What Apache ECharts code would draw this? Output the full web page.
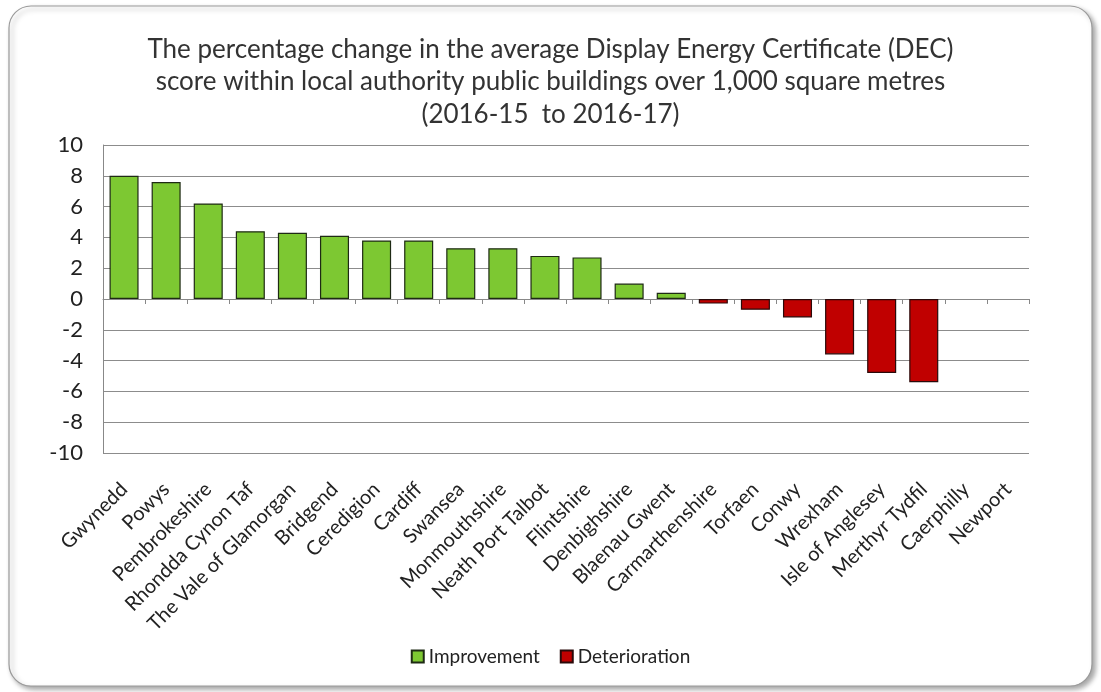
<!DOCTYPE html>
<html>
<head>
<meta charset="utf-8">
<script src="https://cdn.jsdelivr.net/npm/echarts@6/dist/echarts.min.js"></script>
<style>
  html, body { margin: 0; padding: 0; background: #fff; }
  #chart { width: 1101px; height: 692px; }
</style>
</head>
<body>
<div id="chart"></div>
<script>
const authorities = [
  "Gwynedd", "Powys", "Pembrokeshire", "Rhondda Cynon Taf", "The Vale of Glamorgan",
  "Bridgend", "Ceredigion", "Cardiff", "Swansea", "Monmouthshire", "Neath Port Talbot",
  "Flintshire", "Denbighshire", "Blaenau Gwent", "Carmarthenshire", "Torfaen", "Conwy",
  "Wrexham", "Isle of Anglesey", "Merthyr Tydfil", "Caerphilly", "Newport"
];
// Caerphilly and Newport show no bar in the picture
const improvement = [8.0, 7.6, 6.2, 4.4, 4.3, 4.1, 3.8, 3.8, 3.3, 3.3, 2.8, 2.7, 1.0, 0.4,
  null, null, null, null, null, null, null, null];
const deterioration = [null, null, null, null, null, null, null, null, null, null, null, null, null, null,
  -0.3, -0.7, -1.2, -3.6, -4.8, -5.4, null, null];

const font = "Lato, 'Open Sans', sans-serif";

const chart = echarts.init(document.getElementById("chart"), null, { renderer: "canvas" });

chart.setOption({
  animation: false,
  backgroundColor: "#fff",
  graphic: [
    {
      type: "rect",
      z: -10,
      shape: { x: 9, y: 6, width: 1083, height: 680, r: 22 },
      style: {
        fill: "#fff",
        stroke: "#9a9a9a",
        lineWidth: 1.2,
        shadowColor: "rgba(0,0,0,0.35)",
        shadowBlur: 5,
        shadowOffsetX: 3,
        shadowOffsetY: 3
      }
    }
  ],
  title: {
    text: "The percentage change in the average Display Energy Certificate (DEC)\nscore within local authority public buildings over 1,000 square metres\n(2016-15  to 2016-17)",
    left: "center",
    top: 28,
    textStyle: {
      fontFamily: font,
      fontWeight: "normal",
      fontSize: 26,
      lineHeight: 32.5,
      color: "#333"
    }
  },
  legend: {
    bottom: 21,
    left: "center",
    itemWidth: 12,
    itemHeight: 12,
    itemGap: 20,
    icon: "rect",
    textStyle: { fontFamily: font, fontSize: 19, color: "#222" },
    data: ["Improvement", "Deterioration"]
  },
  grid: { left: 103, right: 72, top: 145, bottom: 239 },
  xAxis: [
    {
      type: "category",
      data: authorities,
      axisLine: { onZero: true, lineStyle: { color: "#888", width: 1 } },
      axisTick: { show: true, interval: 0, length: 5, lineStyle: { color: "#888" } },
      axisLabel: { show: false },
      splitLine: { show: false }
    },
    {
      type: "category",
      data: authorities,
      position: "bottom",
      axisLine: { show: false, onZero: false },
      axisTick: { show: false },
      axisLabel: {
        rotate: 45,
        interval: 0,
        margin: 33,
        fontFamily: font,
        fontSize: 20,
        color: "#222"
      }
    }
  ],
  yAxis: {
    type: "value",
    min: -10,
    max: 10,
    interval: 2,
    axisLine: { show: true, lineStyle: { color: "#888" } },
    axisTick: { show: false },
    axisLabel: { fontFamily: font, fontSize: 22, color: "#222", margin: 20 },
    splitLine: { lineStyle: { color: "#8c8c8c", width: 1 } }
  },
  series: [
    {
      name: "Improvement",
      type: "bar",
      stack: "dec",
      data: improvement,
      barCategoryGap: "31%",
      itemStyle: { color: "#7dc832", borderColor: "#1e2a14", borderWidth: 1.2 }
    },
    {
      name: "Deterioration",
      type: "bar",
      stack: "dec",
      data: deterioration,
      itemStyle: { color: "#c00000", borderColor: "#2a0a0a", borderWidth: 1.2 }
    }
  ]
});
</script>
</body>
</html>
